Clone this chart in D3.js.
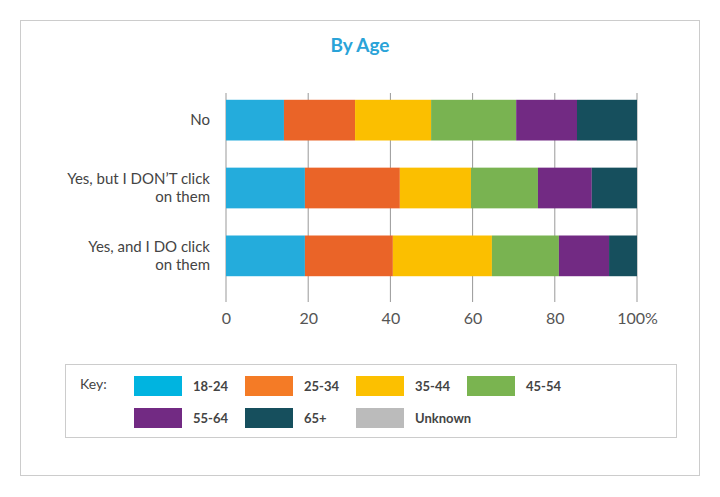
<!DOCTYPE html><html><head><meta charset="utf-8"><script src="https://cdn.jsdelivr.net/npm/d3@7"></script>
<style>body{margin:0;background:#fff}</style></head><body><svg id="c" width="720" height="497"></svg>
<script>
const categories=[["No"],["Yes, but I DON’T click","on them"],["Yes, and I DO click","on them"]];
const ageGroups=["18-24","25-34","35-44","45-54","55-64","65+","Unknown"];
const values=[
 [14.1,17.3,18.5,20.7,14.8,14.6,0],
 [19.2,23.1,17.3,16.3,13.1,11.0,0],
 [19.2,21.4,24.1,16.3,12.2,6.8,0]];
const ticks=[0,20,40,60,80,100];
const colors=["#24acdc","#ea6428","#fbbf00","#79b351","#722a83","#164f5d","#bbbbbb"];
const legendColors=["#00b4e0","#f47b26","#fcc000","#7ab450","#722a83","#164f5d","#bbbbbb"];
const svg=d3.select("#c"),F="Lato, sans-serif";
svg.append("rect").attr("x",20.5).attr("y",20.5).attr("width",679).attr("height",455).attr("fill","none").attr("stroke","#ccc");
svg.append("text").attr("x",360).attr("y",52).attr("text-anchor","middle").attr("font-family",F).attr("font-weight","bold").attr("font-size",19).attr("fill","#2aa3d8").text("By Age");
const x=d3.scaleLinear().domain([0,100]).range([226,637]);
const y=d3.scaleBand().domain(d3.range(3)).range([93,283]).paddingInner(0.4).paddingOuter(0.1);
const g=svg.append("g");
g.selectAll("line.grid").data(ticks).join("line").attr("x1",d=>x(d)).attr("x2",d=>x(d)).attr("y1",93).attr("y2",302).attr("stroke","#999").attr("stroke-width",1);
values.forEach((row,i)=>{let c=0;row.forEach((v,j)=>{g.append("rect").attr("x",x(c)).attr("y",y(i)).attr("width",x(c+v)-x(c)).attr("height",y.bandwidth()).attr("fill",colors[j]);c+=v;});
 const lines=categories[i];const t=svg.append("text").attr("text-anchor","end").attr("font-family",F).attr("font-size",15).attr("fill","#444");
 const cy=y(i)+y.bandwidth()/2;lines.forEach((l,k)=>t.append("tspan").attr("x",210).attr("y",cy+5+(k-(lines.length-1)/2)*18).text(l));});
const ax=svg.append("g").attr("transform","translate(0,300)").call(d3.axisBottom(x).tickValues(ticks).tickSize(0).tickFormat(d=>d===100?"100%":d));
ax.select(".domain").remove();ax.selectAll("text").attr("font-family",F).attr("font-size",16).attr("fill","#555").attr("dy","1.3em");
svg.append("rect").attr("x",65.5).attr("y",364.5).attr("width",611).attr("height",73).attr("fill","none").attr("stroke","#ccc");
svg.append("text").attr("x",80).attr("y",389).attr("font-family",F).attr("font-size",14).attr("fill","#444").text("Key:");
ageGroups.forEach((a,i)=>{const col=i%4,row=Math.floor(i/4);const lx=134+col*111,ly=376+row*32;
 svg.append("rect").attr("x",lx).attr("y",ly).attr("width",48).attr("height",20).attr("fill",legendColors[i]);
 svg.append("text").attr("x",lx+59).attr("y",ly+15).attr("font-family",F).attr("font-weight","bold").attr("font-size",13).attr("fill","#444").text(a);});
</script></body></html>
